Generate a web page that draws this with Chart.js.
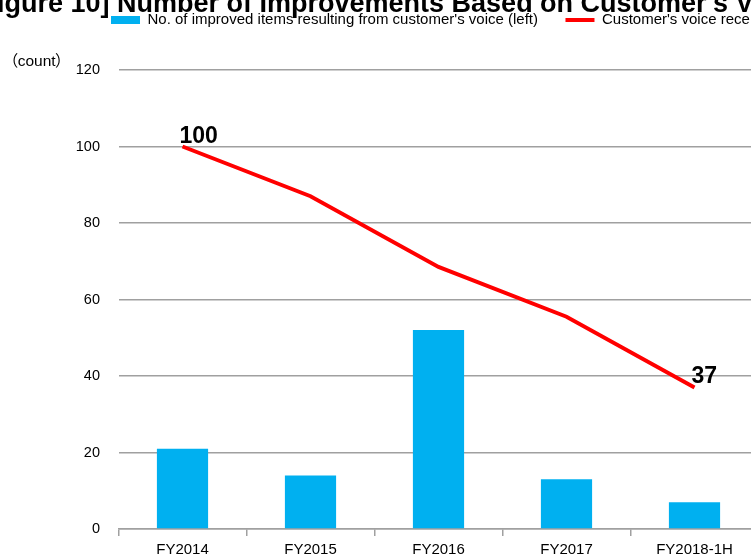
<!DOCTYPE html>
<html>
<head>
<meta charset="utf-8">
<script src="https://cdn.jsdelivr.net/npm/chart.js@4.4.0/dist/chart.umd.min.js"></script>
<style>
  html, body { margin: 0; padding: 0; background: #fff; }
  #frame { position: relative; width: 751px; height: 556px; overflow: hidden; }
  #title {
    position: absolute; left: -28.5px; top: -13.5px; z-index: 2; white-space: nowrap;
    font: bold 27px/32px "Liberation Sans", Arial, sans-serif; color: #000;
  }
  #unit {
    position: absolute; left: 10px; top: 50px; z-index: 2; white-space: nowrap;
    font: 15.5px/22px "Liberation Sans", "Noto Sans CJK JP", sans-serif; color: #000;
    font-feature-settings: "palt";
  }
  #box { position: absolute; left: 0; top: -15px; width: 880px; height: 579px; }
</style>
</head>
<body>
<div id="frame">
  <div id="title">[Figure 10] Number of Improvements Based on Customer's Voice</div>
  <div id="unit">（count）</div>
  <div id="box"><canvas id="chart-canvas"></canvas></div>
</div>
<script>
const categories = ['FY2014', 'FY2015', 'FY2016', 'FY2017', 'FY2018-1H'];
const improvedItems = [21, 14, 52, 13, 7];
const voiceIndex = [100, 87, 68.5, 55.5, 37];
const yTicks = [0, 20, 40, 60, 80, 100, 120];

const sans = '"Liberation Sans", Arial, sans-serif';
const gridGray = '#a0a0a0';

// legend sits over the plot, not at the canvas edge, and leaves a gap below it
const legendPlace = {
  id: 'legendPlace',
  beforeInit(chart) {
    const fitLegend = chart.legend.fit;
    chart.legend.fit = function fit() {
      fitLegend.bind(chart.legend)();
      this.height += 32.5;
    };
  },
  afterLayout(chart) {
    chart.legend.left += 83.5;
  }
};

// value labels on first and last point of the line
const endLabels = {
  id: 'endLabels',
  afterDatasetsDraw(chart) {
    const ctx = chart.ctx;
    const meta = chart.getDatasetMeta(1);
    ctx.save();
    ctx.font = 'bold 23px ' + sans;
    ctx.fillStyle = '#000';
    ctx.textAlign = 'left';
    ctx.textBaseline = 'alphabetic';
    [0, voiceIndex.length - 1].forEach(i => {
      const p = meta.data[i];
      ctx.fillText(String(voiceIndex[i]), p.x - 3, p.y - 4);
    });
    ctx.restore();
  }
};

const ctx = document.getElementById('chart-canvas').getContext('2d');
new Chart(ctx, {
  data: {
    labels: categories,
    datasets: [{
      type: 'bar',
      label: "No. of improved items resulting from customer's voice (left)",
      data: improvedItems,
      backgroundColor: '#00b0f0',
      borderWidth: 0,
      barPercentage: 0.4,
      categoryPercentage: 1,
      pointStyle: 'rect',
      yAxisID: 'y',
      order: 2
    }, {
      type: 'line',
      label: "Customer's voice received (right)",
      data: voiceIndex,
      borderColor: '#ff0000',
      backgroundColor: '#ff0000',
      borderWidth: 4,
      tension: 0,
      pointRadius: 0,
      pointStyle: 'line',
      yAxisID: 'y1',
      order: 1
    }]
  },
  options: {
    responsive: true,
    maintainAspectRatio: false,
    animation: false,
    layout: { padding: { left: 0, right: 1.5, top: 0, bottom: 0 } },
    plugins: {
      title: { display: false },
      tooltip: { enabled: false },
      legend: {
        position: 'top',
        align: 'start',
        labels: {
          usePointStyle: true,
          pointStyleWidth: 29,
          boxHeight: 8,
          padding: 27.5,
          color: '#000',
          font: { family: sans, size: 15 },
          sort: (a, b) => a.datasetIndex - b.datasetIndex
        }
      }
    },
    scales: {
      x: {
        grid: { drawOnChartArea: false, drawTicks: true, tickLength: 7, color: gridGray, lineWidth: 1.5 },
        border: { display: true, color: gridGray, width: 1.5 },
        ticks: { color: '#000', padding: 5, font: { family: sans, size: 15 } }
      },
      y: {
        position: 'left',
        min: yTicks[0],
        max: yTicks[yTicks.length - 1],
        afterFit(scale) { scale.width = 118.5; },
        grid: { drawTicks: false, color: gridGray, lineWidth: 1.5 },
        border: { display: false },
        ticks: { stepSize: yTicks[1] - yTicks[0], padding: 18.5, color: '#000', font: { family: sans, size: 14.5 } }
      },
      y1: {
        position: 'right',
        min: yTicks[0],
        max: yTicks[yTicks.length - 1],
        afterFit(scale) { scale.width = 120; },
        grid: { display: false },
        border: { display: false },
        ticks: { stepSize: yTicks[1] - yTicks[0], padding: 18, color: '#000', font: { family: sans, size: 14.5 } }
      }
    }
  },
  plugins: [legendPlace, endLabels]
});
</script>
</body>
</html>
